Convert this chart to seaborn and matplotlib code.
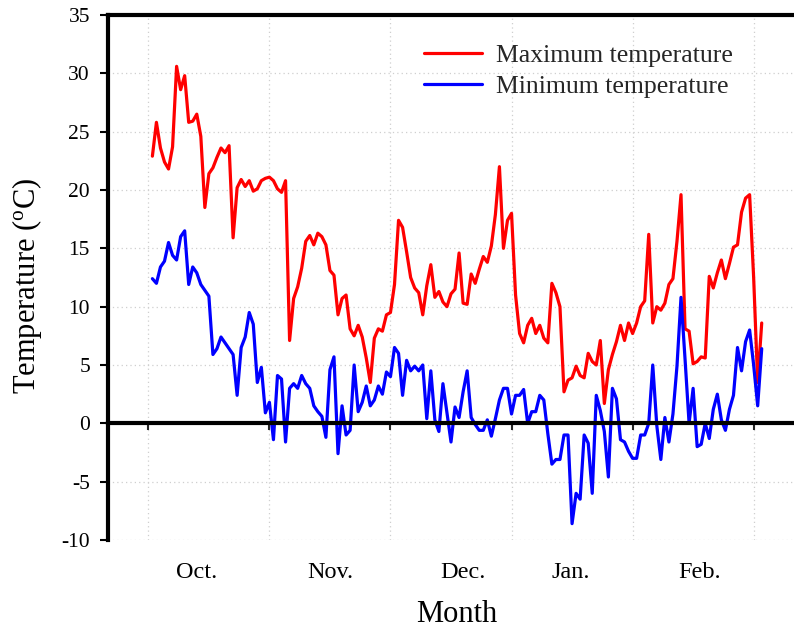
import matplotlib
matplotlib.use("Agg")
import matplotlib.pyplot as plt
import pandas as pd
import seaborn as sns

# Daily air temperature, 1 Oct - end of Feb (degC)
t_max = [
    22.9, 25.8, 23.6, 22.4, 21.8, 23.7, 30.6, 28.6, 29.8, 25.8,
    25.9, 26.5, 24.6, 18.5, 21.4, 21.9, 22.8, 23.6, 23.2, 23.8,
    15.9, 20.2, 20.9, 20.3, 20.8, 19.9, 20.1, 20.8, 21.0, 21.1,
    20.8, 20.1, 19.8, 20.8, 7.1, 10.7, 11.7, 13.3, 15.6, 16.1,
    15.3, 16.3, 16.0, 15.3, 13.1, 12.7, 9.3, 10.7, 11.0, 8.1,
    7.5, 8.4, 7.4, 5.6, 3.5, 7.3, 8.1, 7.9, 9.3, 9.5,
    11.9, 17.4, 16.8, 14.7, 12.5, 11.6, 11.2, 9.3, 11.8, 13.6,
    10.8, 11.3, 10.4, 10.0, 11.1, 11.5, 14.6, 10.3, 10.2, 12.8,
    12.0, 13.2, 14.3, 13.8, 15.2, 17.9, 22.0, 15.0, 17.4, 18.0,
    11.0, 7.7, 6.9, 8.4, 9.0, 7.7, 8.4, 7.3, 6.9, 12.0,
    11.2, 10.0, 2.7, 3.7, 3.9, 4.9, 4.1, 3.9, 6.0, 5.3,
    5.0, 7.1, 1.7, 4.6, 5.9, 7.0, 8.4, 7.1, 8.6, 7.7,
    8.6, 10.0, 10.5, 16.2, 8.6, 10.0, 9.7, 10.3, 11.9, 12.4,
    15.6, 19.6, 8.1, 7.9, 5.1, 5.3, 5.7, 5.6, 12.6, 11.6,
    12.9, 14.0, 12.4, 13.7, 15.1, 15.3, 18.1, 19.3, 19.6, 12.5,
    3.5, 8.6,
]
t_min = [
    12.4, 12.0, 13.4, 13.9, 15.5, 14.4, 14.0, 16.0, 16.5, 11.9,
    13.4, 12.9, 11.9, 11.4, 10.9, 5.9, 6.4, 7.4, 6.9, 6.4,
    5.9, 2.4, 6.5, 7.4, 9.5, 8.5, 3.5, 4.8, 0.9, 1.8,
    -1.4, 4.1, 3.8, -1.6, 3.0, 3.4, 3.0, 4.1, 3.4, 3.0,
    1.5, 1.0, 0.6, -1.2, 4.6, 5.7, -2.6, 1.5, -1.0, -0.6,
    5.0, 1.0, 1.8, 3.2, 1.5, 2.0, 3.2, 2.5, 4.4, 4.0,
    6.5, 6.0, 2.4, 5.4, 4.5, 4.9, 4.5, 5.0, 0.4, 4.5,
    0.3, -0.7, 3.4, 0.9, -1.6, 1.4, 0.5, 2.7, 4.5, 0.5,
    -0.1, -0.6, -0.6, 0.3, -1.1, 0.4, 2.0, 3.0, 3.0, 0.8,
    2.4, 2.4, 2.9, 0.0, 1.0, 1.0, 2.4, 2.0, -0.9, -3.5,
    -3.1, -3.1, -1.0, -1.0, -8.6, -6.0, -6.5, -1.0, -1.7, -6.0,
    2.4, 1.1, -0.7, -4.6, 3.0, 2.1, -1.4, -1.6, -2.4, -3.0,
    -3.0, -1.0, -1.0, 0.0, 5.0, -0.2, -3.1, 0.5, -1.6, 0.8,
    4.9, 10.8, 5.5, 0.0, 3.0, -2.0, -1.8, 0.0, -1.3, 1.2,
    2.5, 0.3, -0.6, 1.2, 2.4, 6.5, 4.5, 7.0, 8.0, 5.0,
    1.5, 6.4,
]
day = list(range(1, len(t_max) + 1))

series_names = ["Maximum temperature", "Minimum temperature"]
series_colors = ["#ff0000", "#0000ff"]
month_names = ["Oct.", "Nov.", "Dec.", "Jan.", "Feb."]
month_pos = [12.0, 45.1, 77.9, 104.7, 136.5]
month_bounds = [0, 30, 60, 90, 120, 150]
y_ticks = list(range(-10, 36, 5))

sns.set_theme(style="white")
plt.rcParams["font.family"] = ["Liberation Serif", "DejaVu Serif"]
plt.rcParams["mathtext.fontset"] = "custom"
plt.rcParams["mathtext.rm"] = "Liberation Serif"
plt.rcParams["axes.unicode_minus"] = False

df = pd.DataFrame({
    "day": day + day,
    "temp": t_max + t_min,
    "series": [series_names[0]] * len(day) + [series_names[1]] * len(day),
})

fig = plt.figure(figsize=(7.94, 6.28), dpi=100)
ax = fig.add_axes([108 / 794, 1 - 540 / 628, 1 - 108 / 794, 525 / 628])

ax.grid(True, linestyle=(0, (1, 2.5)), color="#cfcfcf", linewidth=0.9)
ax.set_axisbelow(True)

sns.lineplot(data=df, x="day", y="temp", hue="series", hue_order=series_names,
             palette=dict(zip(series_names, series_colors)), linewidth=2.3,
             ax=ax, legend=True)

ax.set_xlim(-10, 160)
ax.set_ylim(-10, 35)
ax.set_yticks(y_ticks)
ax.set_yticklabels([str(v) for v in y_ticks])
ax.set_xticks(month_bounds)
ax.set_xticklabels([])

for side in ("left", "top", "bottom"):
    ax.spines[side].set_color("black")
    ax.spines[side].set_linewidth(3.0)
ax.spines["right"].set_visible(False)
ax.spines["bottom"].set_position(("data", 0))

ax.tick_params(axis="y", direction="out", length=6, width=1.5, pad=7,
               labelsize=15.5, colors="black", left=True)
ax.tick_params(axis="x", direction="out", length=5, width=1.5, bottom=True)

for name, pos in zip(month_names, month_pos):
    ax.text(pos, -0.072, name, transform=ax.get_xaxis_transform(),
            ha="center", va="baseline", fontsize=17.5, color="black")

ax.set_xlabel("")
ax.set_ylabel("Temperature ($\\mathregular{^{o}}$C)", fontsize=22, color="black")
ax.yaxis.set_label_coords(-0.094, 0.485)
fig.text(456.7 / 794, 1 - 621.5 / 628, "Month", ha="center", va="baseline",
         fontsize=22, color="black")

handles, labels = ax.get_legend_handles_labels()
for h in handles:
    h.set_linewidth(2.3)
ax.legend(handles, labels, loc="upper left", bbox_to_anchor=(424 / 794, 1 - 44 / 628),
          bbox_transform=fig.transFigure, frameon=False, fontsize=18.5,
          handlelength=2.25, handletextpad=0.55, labelspacing=0.33,
          borderpad=0, borderaxespad=0)

fig.savefig("out.png", dpi=100)
